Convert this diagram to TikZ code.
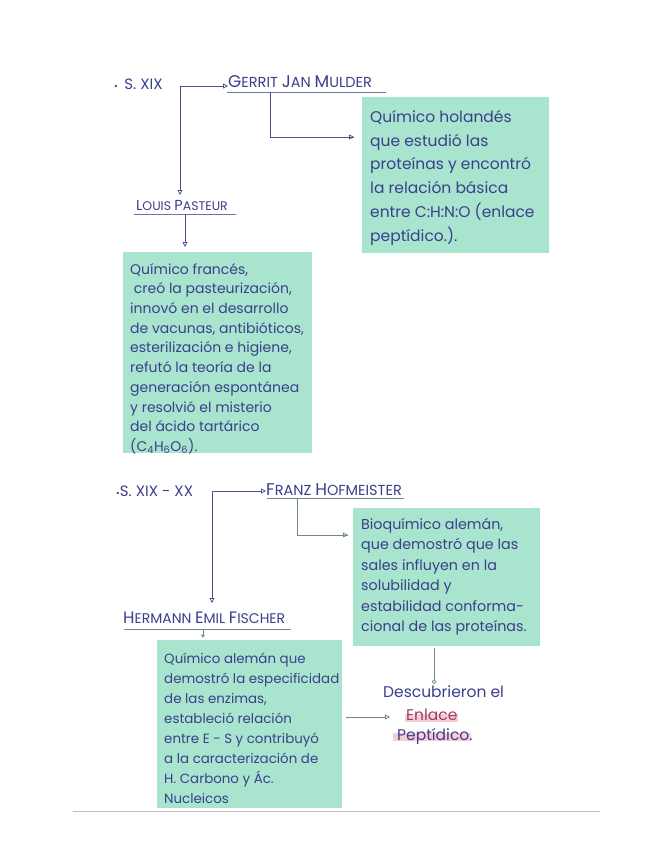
\documentclass[tikz,border=0pt]{standalone}
\usepackage{fontspec}
\setmainfont{Poppins}
\usetikzlibrary{arrows.meta}
\definecolor{ink}{HTML}{3C3F8C}
\definecolor{boxg}{HTML}{A8E4CE}
\definecolor{lineb}{HTML}{4E4F8E}
\definecolor{lineg}{HTML}{6C8C84}
\definecolor{pinkh}{HTML}{F6BCC8}
\definecolor{pinkt}{HTML}{9A3E6E}
\newcommand\ini[2]{{\fontsize{#1}{#1}\selectfont #2}}
\tikzset{
  conn/.style={draw=lineb, line width=0.8pt, -{Triangle[open,length=5pt,width=5pt]}},
  conng/.style={draw=lineg, line width=0.8pt, -{Triangle[open,length=5pt,width=5pt]}},
  plainb/.style={draw=lineb, line width=0.8pt},
  plaing/.style={draw=lineg, line width=0.8pt},
  uline/.style={draw=lineb!80, line width=0.9pt},
  ulineg/.style={draw=lineg, line width=0.9pt},
  person/.style={text=ink, inner sep=0pt, anchor=base west},
  lbl/.style={text=ink, inner sep=0pt, anchor=base west},
  boxbg/.style={fill=boxg, draw=none, anchor=north west, inner sep=0pt},
  boxtxt/.style={anchor=north west, align=left, text=ink, inner sep=0pt},
}
\begin{document}
\begin{tikzpicture}[x=1pt,y=-1pt]
\useasboundingbox (0,0) rectangle (655,848);
\fill[white] (0,0) rectangle (655,848);
% paper edge
\draw[black!25, line width=1pt] (73,811) -- (600,811);

% ---------- first block ----------
\node[lbl, font=\fontsize{15}{15}\selectfont] (s19) at (114,90) {{\fontsize{9}{9}\selectfont •}\, S. XIX};
\coordinate (c1) at (180,86);
\node[person, font=\fontsize{14.5}{14.5}\selectfont] (mulder) at (228,88) {\ini{17}{G}ERRIT \ini{17}{J}AN \ini{17}{M}ULDER};
\draw[uline] (227,92) coordinate (mu1) -- (386,92) coordinate (mu2);
\draw[conn] (c1) -- (c1 -| mulder.west);

\node[person, font=\fontsize{12.5}{12.5}\selectfont] (pasteur) at (136,210) {\ini{14.5}{L}OUIS \ini{14.5}{P}ASTEUR};
\draw[uline] (134,214) coordinate (pa1) -- (236,214) coordinate (pa2);
\coordinate (c1b) at (180,195);
\draw[conn] (c1) -- (c1b);

\node[boxbg, minimum width=187pt, minimum height=156pt] (b1) at (362,97) {};
\node[boxtxt, font=\fontsize{15.5}{23.8}\selectfont] (t1) at (370,110)
  {Químico holandés\\que estudió las\\proteínas y encontró\\la relación básica\\entre C:H:N:O (enlace\\peptídico.).};
\coordinate (m1) at (270,92);
\coordinate (m2) at (354,137);
\draw[plainb] (m1) |- (m2);
\draw[conn] (m2) ++(-1,0) -- (m2);

\node[boxbg, minimum width=189pt, minimum height=201pt] (b2) at (123,252) {};
\node[boxtxt, font=\fontsize{14}{19.7}\selectfont] (t2) at (130,263)
  {Químico francés,\\\ creó la pasteurización,\\innovó en el desarrollo\\de vacunas, antibióticos,\\esterilización e higiene,\\refutó la teoría de la\\generación espontánea\\y resolvió el misterio\\del ácido tartárico\\(C\textsubscript{4}H\textsubscript{6}O\textsubscript{6}).};
\coordinate (p1) at (185,214);
\coordinate (p2) at (185,247);
\draw[conn] (p1) -- (p2);

% ---------- second block ----------
\node[lbl, font=\fontsize{15}{15}\selectfont] (s1920) at (116,496) {{\fontsize{9}{9}\selectfont •}S. XIX - XX};
\coordinate (c2) at (212,491);
\node[person, font=\fontsize{14.5}{14.5}\selectfont] (franz) at (266,495) {\ini{17}{F}RANZ \ini{17}{H}OFMEISTER};
\draw[ulineg] (267,498) coordinate (fr1) -- (404,498) coordinate (fr2);
\draw[conn] (c2) -- (c2 -| franz.west);

\node[person, font=\fontsize{14}{14}\selectfont] (fischer) at (123,623) {\ini{16.5}{H}ERMANN \ini{16.5}{E}MIL \ini{16.5}{F}ISCHER};
\draw[ulineg] (124,629) coordinate (fi1) -- (291,629) coordinate (fi2);
\coordinate (c2b) at (212,603);
\draw[conn] (c2) -- (c2b);

\node[boxbg, minimum width=187pt, minimum height=138pt] (b3) at (353,508) {};
\node[boxtxt, font=\fontsize{14.3}{20.5}\selectfont] (t3) at (361,518)
  {Bioquímico alemán,\\que demostró que las\\sales influyen en la\\solubilidad y\\estabilidad conforma-\\cional de las proteínas.};
\coordinate (h1) at (297,498);
\coordinate (h2) at (348,535);
\draw[plaing] (h1) |- (h2);
\draw[conng] (h2) ++(-1,0) -- (h2);

\node[boxbg, minimum width=185pt, minimum height=168pt] (b4) at (157,640) {};
\node[boxtxt, font=\fontsize{13.4}{20}\selectfont] (t4) at (164,653)
  {Químico alemán que\\demostró la especificidad\\de las enzimas,\\estableció relación\\entre E - S y contribuyó\\a la caracterización de\\H. Carbono y Ác.\\Nucleicos};
\coordinate (f1) at (203,629);
\coordinate (f2) at (203,638);
\draw[plaing, -{Triangle[open,length=3.5pt,width=4pt]}] (f1) -- (f2);

% ---------- conclusion ----------
\node[lbl, font=\fontsize{15.5}{15.5}\selectfont] (desc) at (383,697) {Descubrieron el};
\fill[pinkh, opacity=0.75] (405,714) rectangle (458,722);
\node[lbl, text=pinkt, font=\fontsize{15.5}{15.5}\selectfont] (enlace) at (406,720) {Enlace};
\fill[pinkh, opacity=0.75] (393,733) rectangle (471,741);
\node[lbl, font=\fontsize{15.5}{15.5}\selectfont] (pept) at (397,740) {Peptídico.};

\coordinate (d1) at (434,648);
\coordinate (d2) at (434,684);
\draw[draw=lineg, line width=0.8pt, -{Circle[open,length=4.5pt,width=4.5pt]}] (d1) -- (d2);
\coordinate (e1) at (346,717);
\coordinate (e2) at (390,717);
\draw[conng] (e1) -- (e2);
\end{tikzpicture}
\end{document}
